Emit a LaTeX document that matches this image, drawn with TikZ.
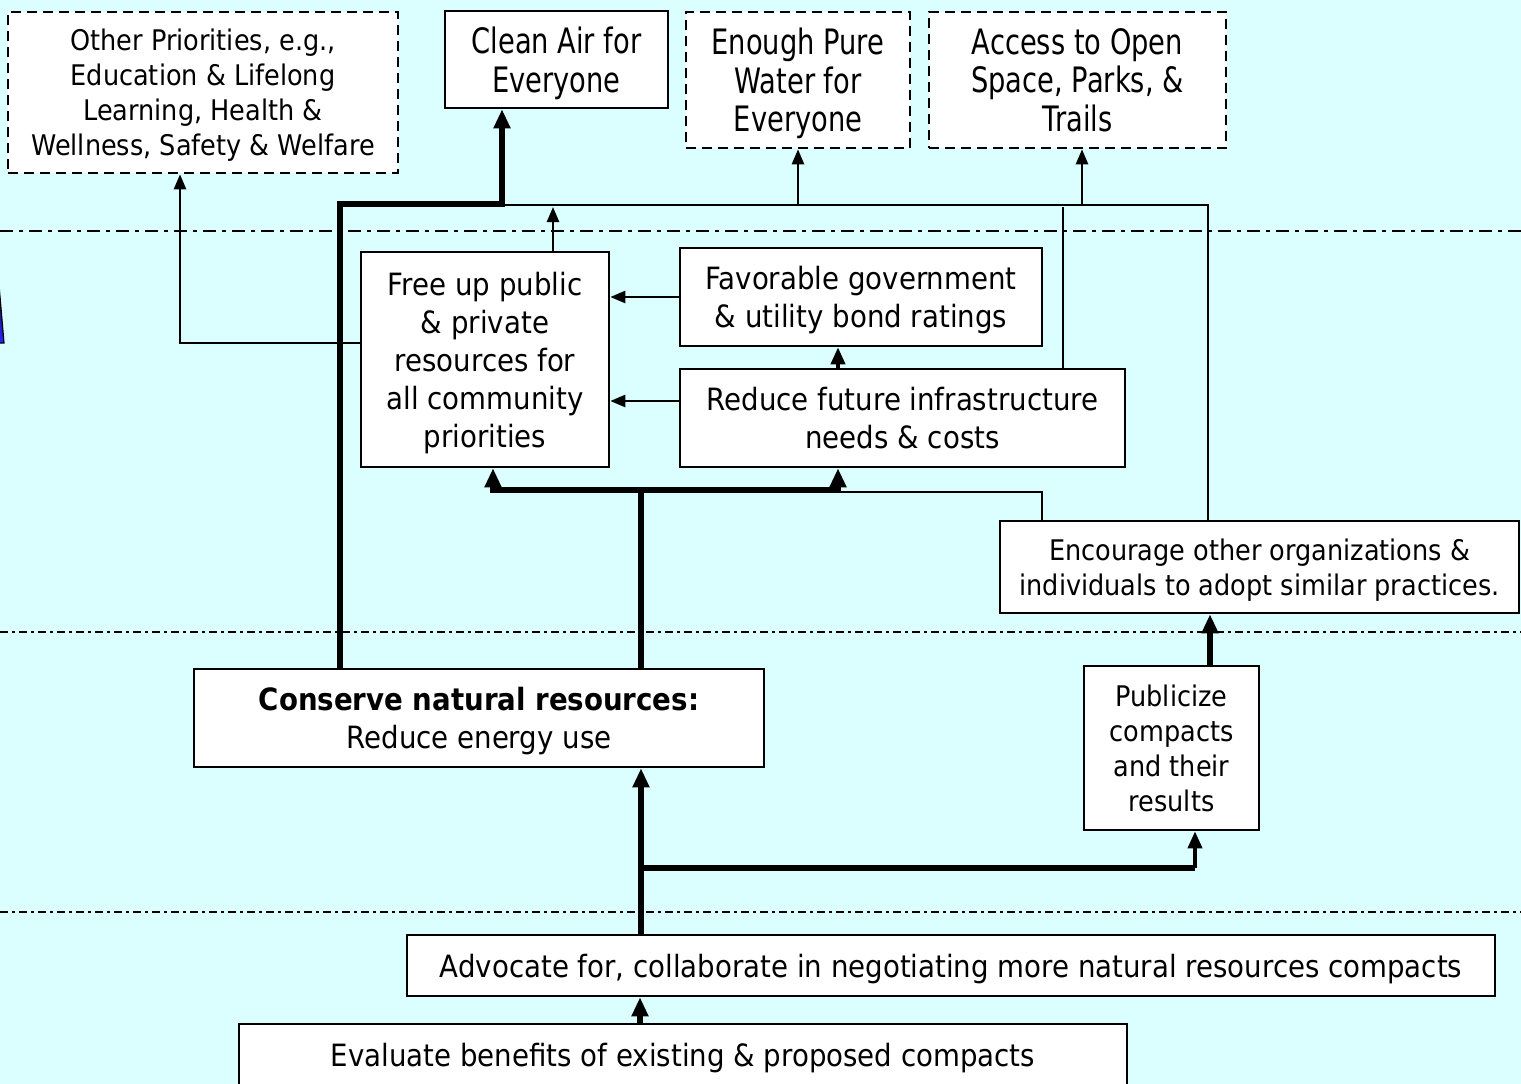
\documentclass[tikz,border=0pt]{standalone}
\usepackage{fontspec}
\setmainfont{DejaVu Sans}[FakeStretch=0.9]
\newfontfamily\condfont{DejaVu Sans}[FakeStretch=0.78]
\usetikzlibrary{arrows.meta}
\definecolor{bg}{RGB}{219,255,255}
\newcommand{\mainsz}{\fontsize{30.7}{38}\selectfont}
\newcommand{\smallsz}{\fontsize{28.4}{35}\selectfont}
\newcommand{\topsz}{\condfont\fontsize{35}{38.5}\selectfont}
\begin{document}
\begin{tikzpicture}[x=1pt,y=-1pt,
  box/.style={draw=black, fill=white, line width=2.6pt, inner sep=0pt, align=center, text depth=0pt},
  dbox/.style={box, dash pattern=on 10pt off 6pt},
  thn/.style={line width=2.5pt},
  thk/.style={line width=5.5pt},
  thinarr/.style={line width=2.5pt, -{Triangle[width=12pt,length=15pt]}},
  medarr/.style={line width=3.8pt, -{Triangle[width=14pt,length=17pt]}},
  thickarr/.style={line width=5.5pt, -{Triangle[width=16pt,length=19pt]}},
  dd/.style={line width=2pt, dash pattern=on 13pt off 6pt on 4pt off 6pt},
  ddsmall/.style={line width=2pt, dash pattern=on 8pt off 4pt on 3pt off 4pt}]
\useasboundingbox (0,0) rectangle (1521,1084);
\fill[bg] (0,0) rectangle (1521,1084);

% separator lines
\draw[dd] (0,231) -- (1521,231);
\draw[ddsmall] (0,632) -- (1521,632);
\draw[ddsmall] (0,912) -- (1521,912);

% partial blue shape at left edge
\shade[top color=black, bottom color=blue!85!white] (-3,262) -- (4,343) -- (-3,343) -- cycle;
\draw[line width=1.2pt] (-3,262) -- (4,343) -- (-3,343);

% boxes
\node[dbox, minimum width=390pt, minimum height=161pt, font=\smallsz] (oth) at (203,92.5)
  {Other Priorities, e.g.,\\Education \& Lifelong\\Learning, Health \&\\Wellness, Safety \& Welfare};
\node[box, minimum width=223pt, minimum height=97pt, font=\topsz] (air) at (556.5,59.5)
  {Clean Air for\\Everyone};
\node[dbox, minimum width=224pt, minimum height=136pt, font=\topsz] (water) at (798,80)
  {Enough Pure\\Water for\\Everyone};
\node[dbox, minimum width=297pt, minimum height=136pt, font=\topsz] (open) at (1077.5,80)
  {Access to Open\\Space, Parks, \&\\Trails};
\node[box, minimum width=248pt, minimum height=215pt, font=\mainsz] (free) at (485,359.5)
  {Free up public\\\& private\\resources for\\all community\\priorities};
\node[box, minimum width=362pt, minimum height=98pt, font=\mainsz] (fav) at (861,297)
  {Favorable government\\\& utility bond ratings};
\node[box, minimum width=445pt, minimum height=98pt, font=\mainsz] (red) at (902.5,418)
  {Reduce future infrastructure\\needs \& costs};
\node[box, minimum width=519pt, minimum height=92pt, font=\smallsz] (enc) at (1259.5,567)
  {Encourage other organizations \&\\individuals to adopt similar practices.};
\node[box, minimum width=570pt, minimum height=98pt, font=\mainsz] (cons) at (479,718)
  {\textbf{Conserve natural resources:}\\Reduce energy use};
\node[box, minimum width=175pt, minimum height=164pt, font=\smallsz] (pub) at (1171.5,748)
  {Publicize\\compacts\\and their\\results};
\node[box, minimum width=1088pt, minimum height=61pt, font=\mainsz] (adv) at (951,965.5)
  {Advocate for, collaborate in negotiating more natural resources compacts};
\node[box, minimum width=888pt, minimum height=62pt, font=\mainsz] (eval) at (683,1055)
  {Evaluate benefits of existing \& proposed compacts};

% bend points
\coordinate (b1) at (340,204);
\coordinate (b2) at (502,204);
\coordinate (t0) at (504,205);
\coordinate (t1) at (1208,205);
\coordinate (o1) at (1082,205);
\coordinate (r1) at (1063,207);
\coordinate (f1) at (553,207);
\coordinate (f2) at (180,343);
\coordinate (r2) at (680,401);
\coordinate (r3) at (838,369);
\coordinate (c1) at (641,490);
\coordinate (c2) at (493,490);
\coordinate (c3) at (838,490);
\coordinate (e1) at (1042,492);
\coordinate (p1) at (1210,640);
\coordinate (a1) at (641,868);
\coordinate (a2) at (1195,868);
\coordinate (v1) at (640,1010);

% connectors
\draw[thickarr] (b1 |- cons.north) -- (b1) -- (b2) -- (b2 |- air.south);
\draw[thn] (t0) -- (t1) -- (t1 |- enc.north);
\draw[thinarr] (water.south |- t1) -- (water.south);
\draw[thinarr] (o1) -- (o1 |- open.south);
\draw[thn] (r1) -- (r1 |- red.north);
\draw[thinarr] (f1 |- free.north) -- (f1);
\draw[thinarr] (f2 -| free.west) -- (f2) -- (f2 |- oth.south);
\draw[thinarr] (fav.west) -- (fav.west -| free.east);
\draw[thinarr] (r2 -| red.west) -- (r2 -| free.east);
\draw[medarr] (r3 |- red.north) -- (r3 |- fav.south);
\draw[thk] (c1 |- cons.north) -- (c1);
\draw[thickarr] (c1) -- (c2) -- (c2 |- free.south);
\draw[thickarr] (c1) -- (c3) -- (c3 |- red.south);
\draw[thn] (e1 |- enc.north) -- (e1) -- (e1 -| c3);
\draw[thickarr] (p1 |- pub.north) -- (p1 |- enc.south);
\draw[thickarr] (a1 |- adv.north) -- (a1 |- cons.south);
\draw[thk] (a1) -- (a2);
\draw[medarr] (a2) -- (a2 |- pub.south);
\draw[thickarr] (v1 |- eval.north) -- (v1 |- adv.south);
\end{tikzpicture}
\end{document}
